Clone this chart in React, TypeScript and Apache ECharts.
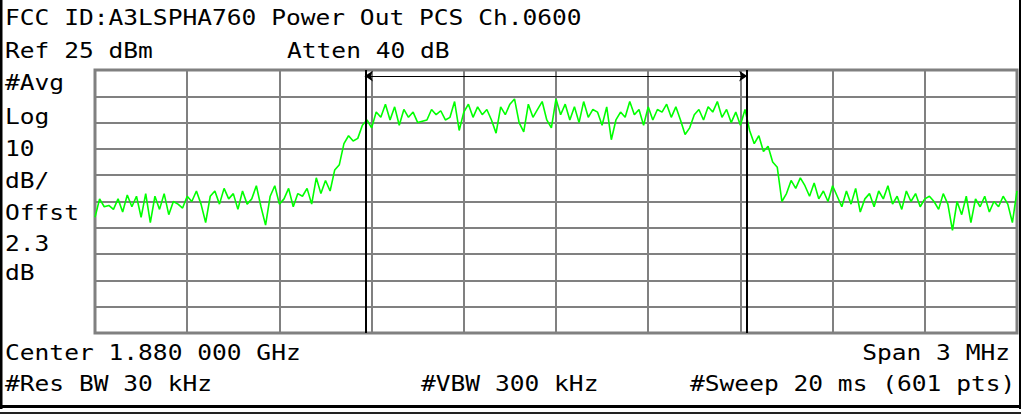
import React, { useEffect, useRef } from "react";
import * as echarts from "echarts";

// ---- Sweep settings (from the analyzer annotations) ----
const CENTER_MHZ = 1880.0;
const SPAN_MHZ = 3;
const REF_DBM = 25;
const DB_PER_DIV = 10;
const DIVS = 10;

// ---- Trace values (dBm), evenly spaced across the span ----
const TRACE_DBM: number[] = [
  -31, -24, -27, -26.5, -28, -24, -29, -22.5, -27, -23,
  -31, -22, -33, -23, -28, -22, -30, -25, -26, -27.5,
  -23, -25, -21, -26, -33, -23, -21, -26, -20, -24,
  -22, -28, -21, -26, -24, -19, -27, -34, -23, -19,
  -26, -24, -20, -27, -22, -23, -20, -26, -16, -22,
  -17, -21, -13, -11, -3, 0, -2, -1, 4, 6,
  3, 9, 7, 12, 6, 11, 4, 10, 7, 9,
  5, 5.5, 6, 10, 8, 9.5, 6, 7, 13, 2,
  9, 12, 7, 11, 8, 10, 6, 1, 11, 8,
  12, 14, 5, 1.5, 12, 7, 10, 13, 6, 3,
  14, 8, 12, 6, 11, 5, 13, 7, 10, 9,
  4, 11, -1.5, 6, 9, 7, 13, 8, 10, 4,
  11, 6, 10, 9, 12, 7, 11, 6, 0.5, 3,
  8, 10, 6, 11, 9, 13, 7, 10, 5, 9,
  4, 10, 2, -3, 0, -6, -4, -10, -12, -25,
  -22, -17, -20, -16, -19, -23, -18, -24, -21, -25,
  -19, -23, -27, -21, -26, -20, -29, -24, -22, -27,
  -21, -24, -19, -26, -23, -28, -21, -25, -22, -27,
  -24, -23, -25, -28, -22, -26, -36, -25, -30, -23,
  -33, -24, -27, -23, -29, -25, -27, -23, -26, -33,
  -21,
];

// Occupied-bandwidth markers (MHz)
const OBW_MARKERS_MHZ = [1879.378, 1880.622];

// ---- Annotation texts ----
const TITLE_TEXT = "FCC ID:A3LSPHA760 Power Out PCS Ch.0600";
const REF_TEXT = "Ref 25 dBm";
const ATTEN_TEXT = "Atten 40 dB";
const LEFT_LABELS = ["#Avg", "Log", "10", "dB/", "Offst", "2.3", "dB"];
const CENTER_TEXT = "Center 1.880 000 GHz";
const SPAN_TEXT = "Span 3 MHz";
const RBW_TEXT = "#Res BW 30 kHz";
const VBW_TEXT = "#VBW 300 kHz";
const SWEEP_TEXT = "#Sweep 20 ms (601 pts)";

const FONT = '21px "DejaVu Sans Mono", monospace';
const SX = 1.17;

function txt(text: string, x: number, y: number, align: string = "left") {
  return {
    type: "text",
    x,
    y,
    scaleX: SX,
    silent: true,
    style: {
      text,
      font: FONT,
      fill: "#000",
      textAlign: align,
      textVerticalAlign: "middle",
      align,
      verticalAlign: "middle",
    },
  };
}

export default function App() {
  const ref = useRef<HTMLDivElement>(null);

  useEffect(() => {
    document.body.style.margin = "0";
    if (!ref.current) return;
    const chart = echarts.init(ref.current, undefined, { renderer: "svg" });

    const start = CENTER_MHZ - SPAN_MHZ / 2;
    const stop = CENTER_MHZ + SPAN_MHZ / 2;
    const n = TRACE_DBM.length;
    const data = TRACE_DBM.map((v, i) => [start + (i * (stop - start)) / (n - 1), v]);
    const bottomDbm = REF_DBM - DB_PER_DIV * DIVS;
    const arrowLevel = REF_DBM - 2.3;

    const leftYs = [83, 117, 149, 181, 213, 244, 273];

    const graphics: any[] = [
      // outer frame
      { type: "rect", silent: true, shape: { x: 0, y: 0, width: 2.5, height: 409 }, style: { fill: "#000" } },
      { type: "rect", silent: true, shape: { x: 1019, y: 0, width: 2, height: 409 }, style: { fill: "#000" } },
      { type: "rect", silent: true, shape: { x: 0, y: 405, width: 1021, height: 3 }, style: { fill: "#000" } },
      { type: "rect", silent: true, shape: { x: 0, y: 412, width: 1021, height: 2 }, style: { fill: "#222" } },
      txt(TITLE_TEXT, 5, 18),
      txt(REF_TEXT, 5, 51),
      txt(ATTEN_TEXT, 287, 51),
      ...LEFT_LABELS.map((t, i) => txt(t, 5, leftYs[i])),
      txt(CENTER_TEXT, 5, 353),
      txt(SPAN_TEXT, 1010, 353, "right"),
      txt(RBW_TEXT, 5, 384),
      txt(VBW_TEXT, 421, 384),
      txt(SWEEP_TEXT, 690, 384),
    ];

    chart.setOption({
      animation: false,
      backgroundColor: "#fff",
      grid: {
        left: 95,
        top: 70,
        right: 6,
        bottom: 83,
        show: true,
        borderColor: "#808080",
        borderWidth: 3,
        backgroundColor: "#fff",
      },
      xAxis: [
        { type: "value", min: start, max: stop, show: false },
        {
          type: "value",
          min: 0,
          max: DIVS,
          interval: 1,
          position: "top",
          axisLine: { show: false },
          axisTick: { show: false },
          axisLabel: { show: false },
          splitLine: { show: true, lineStyle: { color: "#808080", width: 2 } },
        },
      ],
      yAxis: [
        { type: "value", min: bottomDbm, max: REF_DBM, show: false },
        {
          type: "value",
          min: 0,
          max: DIVS,
          interval: 1,
          position: "right",
          axisLine: { show: false },
          axisTick: { show: false },
          axisLabel: { show: false },
          splitLine: { show: true, lineStyle: { color: "#808080", width: 2 } },
        },
      ],
      series: [
        {
          type: "line",
          xAxisIndex: 0,
          yAxisIndex: 0,
          data,
          showSymbol: false,
          symbol: "none",
          lineStyle: { color: "#00ff00", width: 1.6 },
          silent: true,
          z: 3,
          markLine: {
            silent: true,
            animation: false,
            symbol: ["none", "none"],
            label: { show: false },
            lineStyle: { color: "#000", width: 2, type: "solid" },
            emphasis: { disabled: true },
            data: [
              { xAxis: OBW_MARKERS_MHZ[0] },
              { xAxis: OBW_MARKERS_MHZ[1] },
              [
                {
                  coord: [OBW_MARKERS_MHZ[0], arrowLevel],
                  symbol: "arrow",
                  symbolSize: 8,
                  lineStyle: { width: 1 },
                },
                {
                  coord: [OBW_MARKERS_MHZ[1], arrowLevel],
                  symbol: "arrow",
                  symbolSize: 8,
                },
              ],
            ],
          },
        },
      ],
      graphic: graphics,
    });

    return () => chart.dispose();
  }, []);

  return <div ref={ref} style={{ width: 1023, height: 416 }} />;
}
